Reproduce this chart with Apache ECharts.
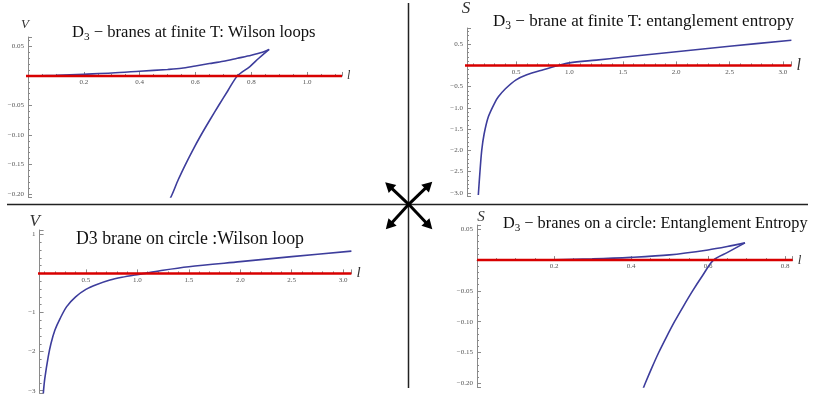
<!DOCTYPE html>
<html><head><meta charset="utf-8">
<script src="https://cdn.jsdelivr.net/npm/echarts@6/dist/echarts.min.js"></script>
<style>html,body{margin:0;padding:0;background:#fff}#c{width:817px;height:396px}</style>
</head><body><div id="c"></div>
<script>
// ---- Panel 1: D3-branes at finite T: Wilson loops (V vs l)
const wilsonT_upper_l = [0.02, 0.1, 0.2, 0.3, 0.4, 0.5, 0.55, 0.6, 0.65, 0.7, 0.75, 0.8, 0.84, 0.864];
const wilsonT_upper_V = [0, 0.001, 0.003, 0.005, 0.008, 0.011, 0.013, 0.017, 0.021, 0.025, 0.030, 0.035, 0.040, 0.045];
const wilsonT_lower_l = [0.864, 0.827, 0.795, 0.75, 0.716, 0.683, 0.651, 0.620, 0.591, 0.564, 0.539, 0.517, 0.51];
const wilsonT_lower_V = [0.045, 0.030, 0.016, 0, -0.025, -0.05, -0.075, -0.10, -0.125, -0.15, -0.175, -0.20, -0.207];
const zero1_l = [-0.01, 1.125];

// ---- Panel 2: D3-brane at finite T: entanglement entropy (S vs l)
const entT_l = [0.146, 0.16, 0.178, 0.2, 0.24, 0.3, 0.334, 0.4, 0.5, 0.6, 0.755, 0.896, 1.0, 1.25, 1.5, 2.0, 2.5, 3.08];
const entT_S = [-3.05, -2.55, -2.0, -1.62, -1.21, -0.88, -0.74, -0.55, -0.34, -0.22, -0.10, 0, 0.06, 0.125, 0.19, 0.32, 0.45, 0.59];
const zero2_l = [-0.025, 3.08];

// ---- Panel 3: D3 brane on circle: Wilson loop (V vs l)
const wilsonC_l = [0.086, 0.1, 0.134, 0.16, 0.199, 0.25, 0.313, 0.4, 0.5, 0.6, 0.734, 0.85, 0.977, 1.074, 1.25, 1.5, 2.0, 2.5, 3.08];
const wilsonC_V = [-3.07, -2.7, -2.13, -1.8, -1.45, -1.15, -0.85, -0.6, -0.41, -0.29, -0.17, -0.10, -0.04, 0, 0.08, 0.17, 0.30, 0.43, 0.57];
const zero3_l = [-0.03, 3.08];

// ---- Panel 4: D3-branes on a circle: Entanglement Entropy (S vs l)
const entC_upper_l = [0.0, 0.1, 0.2, 0.3, 0.4, 0.5, 0.6, 0.65, 0.696];
const entC_upper_S = [0, 0.0002, 0.0006, 0.002, 0.0045, 0.0085, 0.0165, 0.022, 0.028];
const entC_lower_l = [0.696, 0.652, 0.614, 0.586, 0.560, 0.536, 0.513, 0.492, 0.472, 0.454, 0.437, 0.432];
const entC_lower_S = [0.028, 0.013, 0, -0.025, -0.05, -0.075, -0.10, -0.125, -0.15, -0.175, -0.20, -0.208];
const zero4_l = [0, 0.82];

const zip = (xs, ys) => xs.map((x, i) => [x, ys[i]]);
const zeroLine = xs => xs.map(x => [x, 0]);

const BLUE = '#3d3d9c', RED = '#d80000', AX = '#8a8a8a', LBL = '#555';
const SERIF = 'Liberation Serif';

// panel layout: [left, top, width, height]; axis ranges; axis-name [fontSize, gap, padding]
const panels = [
  { grid: [28, 37, 314, 160],        x: [0, 1.125, 5, 0.2, 1, 4],    y: ['V', -0.205, 0.066, 5, 0.05, 2], xName: [12, 5], yName: [13, 6, [0, 6, 0, 0]] },
  { grid: [467, 28, 324.4, 168.3],   x: [0.04, 3.08, 6, 0.5, 1, 5],  y: ['S', -3.08, 0.88, 8, 0.5, 1],    xName: [16, 5], yName: [17, 11, [0, 2, 0, 0]] },
  { grid: [39.6, 230, 311.8, 163.4], x: [0.05, 3.08, 6, 0.5, 1, 5],  y: ['V', -3.07, 1.11, 4, 1, 0],      xName: [15, 5], yName: [17, 0, [0, 10, 0, 0]] },
  { grid: [477, 225, 315.7, 162],    x: [0, 0.82, 4, 0.2, 1, 4],     y: ['S', -0.206, 0.057, 5, 0.05, 2], xName: [13, 5], yName: [15, 0.5, [0, 0, 0, 8]] }
];

function fmt(step, dec) {
  return v => {
    if (Math.abs(v) < 1e-9) return '';
    const r = v / step;
    if (Math.abs(r - Math.round(r)) > 1e-6) return '';
    return v.toFixed(dec).replace('-', '\u2212');
  };
}

const grids = [], xAxes = [], yAxes = [];
panels.forEach((p, i) => {
  const [l, t, w, h] = p.grid;
  grids.push({ left: l, top: t, width: w, height: h });
  xAxes.push({ type: 'value', gridIndex: i, min: p.x[0], max: p.x[1], show: false });
  const [yn, ymin, ymax, ysplit, ystep, ydec] = p.y;
  yAxes.push({
    type: 'value', gridIndex: i, min: ymin, max: ymax, splitNumber: ysplit,
    name: yn, nameLocation: 'end', nameGap: p.yName[1],
    nameTextStyle: { fontFamily: SERIF, fontStyle: 'italic', fontSize: p.yName[0], color: '#333', padding: p.yName[2] },
    axisLine: { onZero: false, lineStyle: { color: AX, width: 1 } },
    axisTick: { inside: true, length: 4, lineStyle: { color: AX } },
    minorTick: { show: true, splitNumber: 5, length: 2, lineStyle: { color: AX } },
    splitLine: { show: false },
    axisLabel: { formatter: fmt(ystep, ydec), fontFamily: SERIF, fontSize: 7, color: LBL, margin: 4, showMinLabel: false, showMaxLabel: false }
  });
});
// x axes drawn along the zero line: an auxiliary grid whose bottom edge is y = 0
panels.forEach((p, i) => {
  const [l, t, w, h] = p.grid;
  const ymin = p.y[1], ymax = p.y[2];
  const hz = h * ymax / (ymax - ymin);
  grids.push({ left: l, top: t, width: w, height: hz });
  const [xmin, xmax, xsplit, xstep, xdec, xminor] = p.x;
  xAxes.push({
    type: 'value', gridIndex: 4 + i, min: xmin, max: xmax, splitNumber: xsplit,
    name: 'l', nameLocation: 'end', nameGap: p.xName[1],
    nameTextStyle: { fontFamily: SERIF, fontStyle: 'italic', fontSize: p.xName[0], color: '#333', verticalAlign: 'middle' },
    axisLine: { onZero: false, lineStyle: { color: AX, width: 1 } },
    axisTick: { inside: true, length: 4, lineStyle: { color: AX } },
    minorTick: { show: true, splitNumber: xminor, length: 2, lineStyle: { color: AX } },
    splitLine: { show: false },
    axisLabel: { formatter: fmt(xstep, xdec), fontFamily: SERIF, fontSize: 7, color: LBL, margin: 3, showMinLabel: false, showMaxLabel: false }
  });
  yAxes.push({ type: 'value', gridIndex: 4 + i, min: 0, max: 1, show: false });
});

function blue(i, data) {
  return { type: 'line', xAxisIndex: i, yAxisIndex: i, data, showSymbol: false, smooth: 0.3,
           lineStyle: { color: BLUE, width: 1.6 }, z: 3, silent: true };
}
function red(i, data) {
  return { type: 'line', xAxisIndex: i, yAxisIndex: i, data, showSymbol: false, clip: false,
           lineStyle: { color: RED, width: 2.5 }, z: 4, silent: true };
}

function title(text, left, top, size) {
  const rich = {
    n: { fontFamily: SERIF, fontSize: size, fontWeight: 'normal', color: '#111', lineHeight: 20 },
    s: { fontFamily: SERIF, fontSize: size * 0.68, fontWeight: 'normal', color: '#111', lineHeight: 11, verticalAlign: 'bottom' }
  };
  return { text, left, top, padding: 0, textStyle: { fontWeight: 'normal', rich } };
}

// arrows (decoration)
const arrowCenter = [408.7, 204.3];
const arrowTips = [[385.2, 182.2], [432.3, 181.7], [385.8, 229.3], [432.3, 229.3]];
const arrowGraphics = [];
arrowTips.forEach(t => {
  const dx = t[0] - arrowCenter[0], dy = t[1] - arrowCenter[1];
  const L = Math.hypot(dx, dy), ux = dx / L, uy = dy / L;
  const hl = 10, hw = 5.5;
  const bx = t[0] - ux * hl, by = t[1] - uy * hl;
  arrowGraphics.push({ type: 'line', shape: { x1: arrowCenter[0], y1: arrowCenter[1], x2: bx + ux, y2: by + uy },
                       style: { stroke: '#000', lineWidth: 3 }, z: 10 });
  arrowGraphics.push({ type: 'polygon', shape: { points: [[t[0], t[1]], [bx - uy * hw, by + ux * hw], [bx + uy * hw, by - ux * hw]] },
                       style: { fill: '#000' }, z: 10 });
});

const chart = echarts.init(document.getElementById('c'), null, { renderer: 'canvas' });
chart.setOption({
  animation: false,
  backgroundColor: '#fff',
  title: [
    title('{n|D}{s|3}{n| \u2212 branes at finite T: Wilson loops}', 72, 23, 16.6),
    title('{n|D}{s|3}{n| \u2212 brane at finite T: entanglement entropy}', 493, 12, 17),
    title('{n|D3 brane on circle :Wilson loop}', 76, 229, 17.8),
    title('{n|D}{s|3}{n| \u2212 branes on a circle: Entanglement Entropy}', 503, 214, 16.3)
  ],
  grid: grids,
  xAxis: xAxes,
  yAxis: yAxes,
  series: [
    blue(0, zip(wilsonT_upper_l, wilsonT_upper_V)),
    blue(0, zip(wilsonT_lower_l, wilsonT_lower_V)),
    red(0, zeroLine(zero1_l)),
    blue(1, zip(entT_l, entT_S)),
    red(1, zeroLine(zero2_l)),
    blue(2, zip(wilsonC_l, wilsonC_V)),
    red(2, zeroLine(zero3_l)),
    blue(3, zip(entC_upper_l, entC_upper_S)),
    blue(3, zip(entC_lower_l, entC_lower_S)),
    red(3, zeroLine(zero4_l))
  ],
  graphic: [
    { type: 'line', shape: { x1: 408.5, y1: 3, x2: 408.5, y2: 388 }, style: { stroke: '#222', lineWidth: 1.5 }, z: 9 },
    { type: 'line', shape: { x1: 7, y1: 204.5, x2: 808, y2: 204.5 }, style: { stroke: '#222', lineWidth: 1.5 }, z: 9 }
  ].concat(arrowGraphics)
});
</script>
</body></html>
